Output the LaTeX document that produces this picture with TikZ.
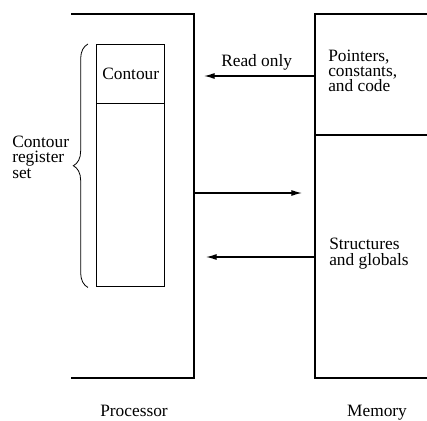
\documentclass[tikz,border=0pt]{standalone}
\usepackage{fontspec}
\setmainfont{Liberation Serif}
\usetikzlibrary{arrows.meta,decorations.pathreplacing}
\begin{document}
\begin{tikzpicture}[x=0.75pt,y=-0.75pt,
  wall/.style={line width=1.1pt},
  lbl/.style={inner sep=0pt,align=left,font=\fontsize{13}{11.5}\selectfont},
  conn/.style={line width=0.9pt,-{Latex[length=8pt,width=4.5pt]}},
  regbox/.style={draw,line width=1.1pt,inner sep=0pt}]
\useasboundingbox (0,0) rectangle (427,420);
% processor
\draw[wall] (71,14) -- (194,14) -- (194,378) -- (71,378);
% memory
\draw[wall] (427,14) -- (315,14) -- (315,378) -- (427,378);
\draw[wall] (315,135) -- (427,135);
% registers
\node[regbox,minimum width=68*0.75pt,minimum height=59*0.75pt,anchor=north west,lbl] (ctr) at (96,44) {Contour};
\node[regbox,minimum width=68*0.75pt,minimum height=183*0.75pt,anchor=north west] (regs) at (96,103) {};
% brace
\draw[line width=0.6pt,decorate,decoration={brace,amplitude=11pt}] (regs.south west) ++(-8,0) coordinate (bb) -- (ctr.north west -| bb);
% multi-line labels: base anchor = baseline of last line
\node[lbl,anchor=base west] (crs) at (12,178) {Contour\\register\\set};
% memory texts
\node[lbl,anchor=base west] (pcc) at (328,92) {Pointers,\\constants,\\and code};
\node[lbl,anchor=base west] (sg) at (329,265) {Structures\\and globals};
% connectors
\coordinate (m1) at (315,76);
\coordinate (p1) at (204,76);
\coordinate (p2) at (194,193);
\coordinate (m2) at (302,193);
\coordinate (m3) at (315,257);
\coordinate (p3) at (206,257);
\draw[conn] (m1) -- (p1);
\draw[conn] (p2) -- (m2);
\draw[conn] (m3) -- (p3);
\node[lbl,anchor=base west] (ro) at (221,67) {Read only};
% titles
\node[lbl,anchor=base] (proc) at (134,416) {Processor};
\node[lbl,anchor=base] (mem) at (377,416) {Memory};
\end{tikzpicture}
\end{document}
